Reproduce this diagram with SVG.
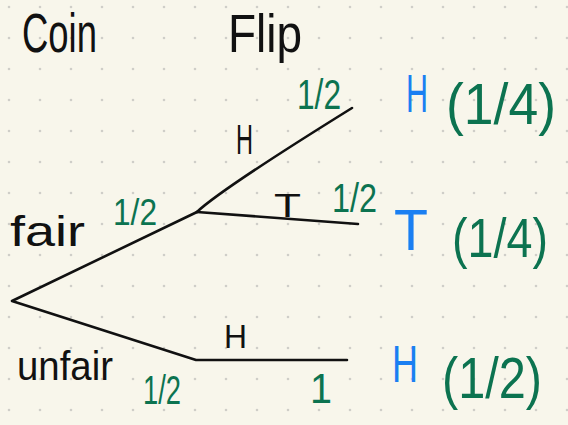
<svg xmlns="http://www.w3.org/2000/svg" width="568" height="425" viewBox="0 0 568 425">
<defs>
<pattern id="dots" x="0" y="0" width="31" height="31" patternUnits="userSpaceOnUse">
<circle cx="9" cy="7" r="1.3" fill="#cfcec8"/>
</pattern>
<style>
.blk{font-family:"Liberation Sans",Arial,sans-serif;fill:#111}
.grn{font-family:"Liberation Sans",Arial,sans-serif;fill:#0c7350}
.blu{font-family:"Liberation Sans",Arial,sans-serif;fill:#1a7ff2}
.edge{fill:none;stroke:#111;stroke-width:2.6;stroke-linecap:round;stroke-linejoin:round}
</style>
</defs>
<rect width="568" height="425" fill="#f8f6eb"/>
<rect width="568" height="425" fill="url(#dots)"/>

<g id="headers">
<text class="blk" x="22" y="52" font-size="56" textLength="75" lengthAdjust="spacingAndGlyphs">Coin</text>
<text class="blk" x="228" y="52" font-size="54" textLength="74" lengthAdjust="spacingAndGlyphs">Flip</text>
</g>

<g id="connectors">
<path class="edge" d="M197 212 L12 301 L196 360 L347 360"/>
<path class="edge" d="M197 212 Q220 190 352 108"/>
<path class="edge" d="M197 212 L358 224"/>
</g>

<g id="node-root">
<text class="blk" x="10" y="246" font-size="42" textLength="75" lengthAdjust="spacingAndGlyphs">fair</text>
<text class="grn" x="113" y="225" font-size="36" textLength="44" lengthAdjust="spacingAndGlyphs">1/2</text>
<text class="blk" x="17" y="380" font-size="40" textLength="96" lengthAdjust="spacingAndGlyphs">unfair</text>
<text class="grn" x="143" y="404" font-size="40" textLength="38" lengthAdjust="spacingAndGlyphs">1/2</text>
</g>

<g id="node-fair">
<text class="blk" x="236" y="154" font-size="42" textLength="17" lengthAdjust="spacingAndGlyphs">H</text>
<text class="grn" x="297" y="109" font-size="42" textLength="44" lengthAdjust="spacingAndGlyphs">1/2</text>
<text class="blk" x="274" y="217" font-size="34" textLength="27" lengthAdjust="spacingAndGlyphs">T</text>
<text class="grn" x="332" y="212" font-size="40" textLength="45" lengthAdjust="spacingAndGlyphs">1/2</text>
</g>

<g id="node-unfair">
<text class="blk" x="224" y="348" font-size="34" textLength="23" lengthAdjust="spacingAndGlyphs">H</text>
<text class="grn" x="310" y="403" font-size="42" textLength="22" lengthAdjust="spacingAndGlyphs">1</text>
</g>

<g id="outcome-fair-H">
<text class="blu" x="406" y="112" font-size="54" textLength="22" lengthAdjust="spacingAndGlyphs">H</text>
<text class="grn" x="446" y="124" font-size="58" textLength="110" lengthAdjust="spacingAndGlyphs">(1/4)</text>
</g>

<g id="outcome-fair-T">
<text class="blu" x="394" y="250" font-size="58" textLength="34" lengthAdjust="spacingAndGlyphs">T</text>
<text class="grn" x="452" y="257" font-size="55" textLength="96" lengthAdjust="spacingAndGlyphs">(1/4)</text>
</g>

<g id="outcome-unfair-H">
<text class="blu" x="392" y="382" font-size="52" textLength="26" lengthAdjust="spacingAndGlyphs">H</text>
<text class="grn" x="442" y="398" font-size="58" textLength="100" lengthAdjust="spacingAndGlyphs">(1/2)</text>
</g>
</svg>
